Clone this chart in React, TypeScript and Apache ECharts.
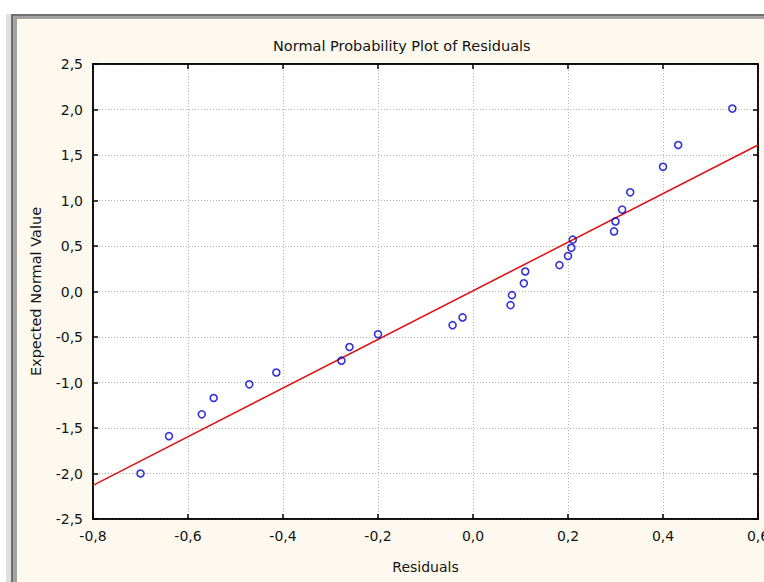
import React, { useEffect, useRef } from "react";
import * as echarts from "echarts";

// Residuals (x) and expected normal values (y)
const residuals = [
  -0.7, -0.64, -0.571, -0.546, -0.471, -0.414, -0.277, -0.26, -0.2, -0.043,
  -0.022, 0.079, 0.082, 0.107, 0.11, 0.182, 0.2, 0.207, 0.21, 0.297, 0.3,
  0.314, 0.331, 0.4, 0.432, 0.546,
];
const expectedNormal = [
  -2.0, -1.59, -1.35, -1.17, -1.02, -0.89, -0.76, -0.61, -0.47, -0.37, -0.285,
  -0.15, -0.04, 0.09, 0.22, 0.29, 0.39, 0.48, 0.57, 0.66, 0.77, 0.9, 1.09,
  1.37, 1.61, 2.01,
];
// Fitted reference line end points
const fitX = [-0.8, 0.6];
const fitY = [-2.13, 1.61];

const titleText = "Normal Probability Plot of Residuals";
const xName = "Residuals";
const yName = "Expected Normal Value";

const FONT = "DejaVu Sans";
const fmt = (v: number) => v.toFixed(1).replace(".", ",");

export default function App() {
  const ref = useRef<HTMLDivElement>(null);
  useEffect(() => {
    if (!ref.current) return;
    const chart = echarts.init(ref.current, undefined, { renderer: "svg", width: 764, height: 582 });
    const points = residuals.map((x, i) => [x, expectedNormal[i]]);
    const line = fitX.map((x, i) => [x, fitY[i]]);
    const gridLine = { show: true, lineStyle: { color: "#b4b4b4", type: [1, 2] as any, width: 1 } };
    chart.setOption({
      animation: false,
      backgroundColor: "#ffffff",
      textStyle: { fontFamily: FONT },
      graphic: [
        { type: "rect", z: -100, shape: { x: 6, y: 14, width: 5, height: 600 }, style: { fill: "#dedede" } },
        { type: "rect", z: -99, shape: { x: 11, y: 14, width: 800, height: 600 }, style: { fill: "#6f6f6f" } },
        { type: "rect", z: -98, shape: { x: 13, y: 16, width: 800, height: 600 }, style: { fill: "#a2a2a2" } },
        { type: "rect", z: -97, shape: { x: 17, y: 19, width: 800, height: 600 }, style: { fill: "#fdf9ee" } },
      ],
      title: {
        text: titleText,
        left: 268,
        top: 33,
        textStyle: { fontFamily: FONT, fontSize: 14.5, fontWeight: "normal", color: "#141414" },
      },
      grid: {
        left: 93,
        top: 64,
        right: 6,
        bottom: 63,
        outerBoundsMode: "none",
        containLabel: false,
        show: true,
        backgroundColor: "#ffffff",
        borderColor: "#000000",
        borderWidth: 1.5,
      },
      xAxis: [
        {
          type: "value",
          min: -0.8,
          max: 0.6,
          interval: 0.2,
          name: xName,
          nameLocation: "middle",
          nameGap: 41,
          nameTextStyle: { fontFamily: FONT, fontSize: 14, color: "#141414" },
          axisLine: { show: true, onZero: false, lineStyle: { color: "#000", width: 1.5 } },
          axisTick: { show: true, inside: true, length: 5, lineStyle: { color: "#000", width: 1.5 } },
          axisLabel: { formatter: fmt, fontFamily: FONT, fontSize: 14, color: "#141414", margin: 10 },
          splitLine: gridLine,
        },
        {
          type: "value",
          position: "top",
          min: -0.8,
          max: 0.6,
          interval: 0.2,
          axisLine: { show: true, onZero: false, lineStyle: { color: "#000", width: 1.5 } },
          axisTick: { show: true, inside: true, length: 5, lineStyle: { color: "#000", width: 1.5 } },
          axisLabel: { show: false },
          splitLine: { show: false },
        },
      ],
      yAxis: [
        {
          type: "value",
          min: -2.5,
          max: 2.5,
          interval: 0.5,
          name: yName,
          nameLocation: "middle",
          nameGap: 50,
          nameTextStyle: { fontFamily: FONT, fontSize: 14.5, color: "#141414" },
          axisLine: { show: true, onZero: false, lineStyle: { color: "#000", width: 1.5 } },
          axisTick: { show: true, inside: true, length: 5, lineStyle: { color: "#000", width: 1.5 } },
          axisLabel: { formatter: fmt, fontFamily: FONT, fontSize: 14, color: "#141414", margin: 10 },
          splitLine: gridLine,
        },
        {
          type: "value",
          position: "right",
          min: -2.5,
          max: 2.5,
          interval: 0.5,
          axisLine: { show: true, onZero: false, lineStyle: { color: "#000", width: 1.5 } },
          axisTick: { show: true, inside: true, length: 5, lineStyle: { color: "#000", width: 1.5 } },
          axisLabel: { show: false },
          splitLine: { show: false },
        },
      ],
      series: [
        {
          type: "line",
          data: line,
          xAxisIndex: 0,
          yAxisIndex: 0,
          symbol: "none",
          lineStyle: { color: "#e01010", width: 1.5 },
          z: 2,
        },
        {
          type: "scatter",
          data: points,
          xAxisIndex: 0,
          yAxisIndex: 0,
          symbol: "circle",
          symbolSize: 7,
          itemStyle: { color: "rgba(255,255,255,0)", borderColor: "#0000d0", borderWidth: 1.6 },
          z: 3,
        },
      ],
    });
    return () => chart.dispose();
  }, []);
  return (
    <div
      ref={ref}
      style={{ position: "fixed", left: 0, top: 0, width: 764, height: 582, overflow: "hidden" }}
    />
  );
}
